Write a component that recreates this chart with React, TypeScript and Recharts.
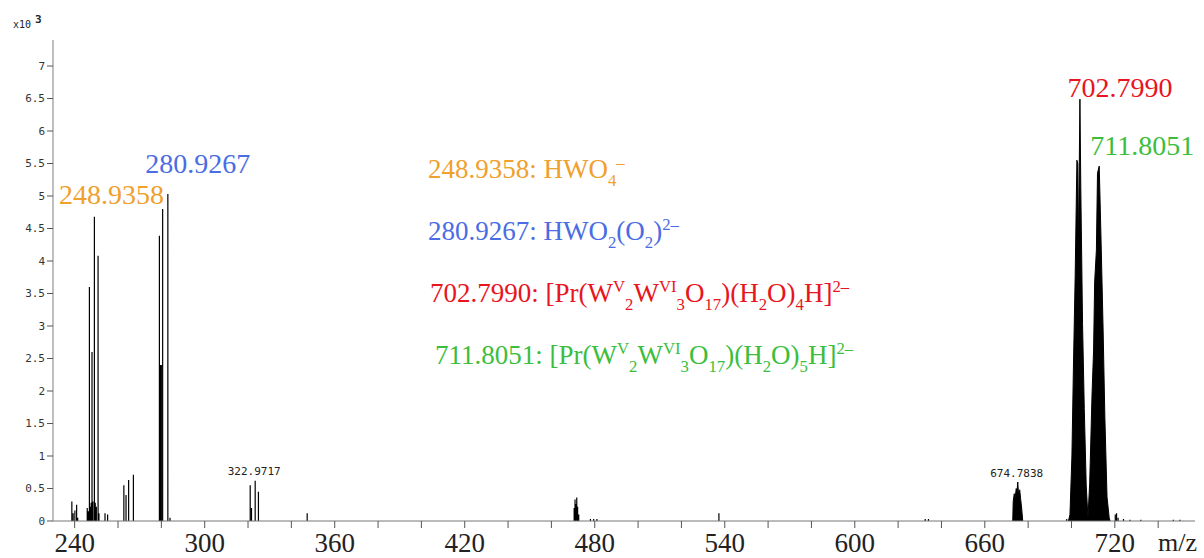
import React from "react";
import { ComposedChart, XAxis, YAxis, Line, Area, Scatter } from "recharts";

// ESI-MS stick spectrum, intensity in units of 10^3 counts.

const ORANGE = "#f0a02c";
const BLUE = "#4a6ce4";
const RED = "#e8141e";
const GREEN = "#3cbe3c";

// isolated sticks: [m/z, intensity]
const peaks240: [number, number][] = [
  [238.7, 0.3], [239.3, 0.12], [240.1, 0.16], [240.9, 0.25], [241.4, 0.05],
];
const peaks248: [number, number][] = [
  [245.8, 0.2], [246.3, 0.15], [246.8, 3.6], [247.2, 0.22], [247.6, 0.28],
  [248.0, 2.6], [248.4, 0.3], [249.1, 4.68], [249.5, 0.28], [250.0, 0.22],
  [250.8, 4.08], [251.2, 0.12], [254.0, 0.12], [255.2, 0.1],
];
const peaks265: [number, number][] = [
  [262.7, 0.55], [263.7, 0.4], [264.9, 0.63], [267.1, 0.71],
];
const peaks281: [number, number][] = [
  [279.1, 4.39], [279.6, 2.4], [280.0, 2.4], [280.6, 4.8], [283.0, 5.03], [284.0, 0.05],
];
const peaks323: [number, number][] = [
  [321.0, 0.55], [321.6, 0.2], [323.3, 0.62], [324.8, 0.45], [347.3, 0.12],
];
const peaksMid: [number, number][] = [
  [470.5, 0.2], [470.9, 0.33], [471.3, 0.26], [471.7, 0.36], [472.1, 0.22],
  [472.6, 0.1], [478.0, 0.03], [479.5, 0.03], [481.0, 0.03], [537.3, 0.12],
  [632.5, 0.03], [634.0, 0.03],
];
const peaksTail: [number, number][] = [
  [697.8, 0.03], [720.2, 0.1], [720.8, 0.12], [721.5, 0.05], [724.0, 0.03],
  [727.0, 0.02], [732.0, 0.02], [747.0, 0.02], [750.0, 0.02],
];

// dense isotope envelopes, drawn filled
const cluster675: [number, number][] = [
  [672.9, 0], [673.1, 0.3], [673.6, 0.42], [674.0, 0.35], [674.5, 0.5],
  [674.9, 0.45], [675.2, 0.6], [675.6, 0.4], [676.1, 0.48], [676.5, 0.35],
  [677.0, 0.2], [677.5, 0],
];
const cluster707: [number, number][] = [
  [698.6, 0], [699.3, 0.1], [700.2, 1.0], [700.9, 2.37], [701.7, 3.76],
  [702.5, 5.55], [702.9, 5.5], [703.2, 4.17], [703.9, 6.49], [704.3, 5.12],
  [705.1, 3.04], [705.9, 1.73], [706.8, 0.55], [707.6, 0.05], [708.4, 0.58],
  [709.5, 1.97], [710.2, 2.63], [710.7, 3.68], [711.5, 4.17], [712.0, 5.35],
  [712.8, 5.46], [713.7, 4.25], [714.6, 2.94], [715.4, 1.6], [716.4, 0.37],
  [717.4, 0.05], [717.8, 0],
];

const mzTicks = [240, 260, 280, 300, 320, 340, 360, 380, 400, 420, 440, 460, 480, 500, 520, 540, 560, 580, 600, 620, 640, 660, 680, 700, 720, 740];
const mzLabels = [240, 300, 360, 420, 480, 540, 600, 660, 720];
const intensityTicks = [0, 0.5, 1, 1.5, 2, 2.5, 3, 3.5, 4, 4.5, 5, 5.5, 6, 6.5, 7];

const peakLabels = [
  { mz: 249.1, intensity: 4.68, text: "248.9358", color: ORANGE },
  { mz: 283.0, intensity: 5.03, text: "280.9267", color: BLUE },
  { mz: 703.9, intensity: 6.49, text: "702.7990", color: RED },
  { mz: 712.8, intensity: 5.46, text: "711.8051", color: GREEN },
  { mz: 323.3, intensity: 0.62, text: "322.9717", color: "#222" },
  { mz: 675.2, intensity: 0.6, text: "674.7838", color: "#222" },
];

type Seg = [string, "" | "sub" | "sup"];
const assignments: { color: string; segs: Seg[] }[] = [
  { color: ORANGE, segs: [["248.9358: HWO", ""], ["4", "sub"], ["–", "sup"]] },
  { color: BLUE, segs: [["280.9267: HWO", ""], ["2", "sub"], ["(O", ""], ["2", "sub"], [")", ""], ["2–", "sup"]] },
  {
    color: RED,
    segs: [["702.7990: [Pr(W", ""], ["V", "sup"], ["2", "sub"], ["W", ""], ["VI", "sup"], ["3", "sub"], ["O", ""], ["17", "sub"], [")(H", ""], ["2", "sub"], ["O)", ""], ["4", "sub"], ["H]", ""], ["2–", "sup"]],
  },
  {
    color: GREEN,
    segs: [["711.8051: [Pr(W", ""], ["V", "sup"], ["2", "sub"], ["W", ""], ["VI", "sup"], ["3", "sub"], ["O", ""], ["17", "sub"], [")(H", ""], ["2", "sub"], ["O)", ""], ["5", "sub"], ["H]", ""], ["2–", "sup"]],
  },
];

// one vertical segment per stick, broken by nulls
const toSticks = (list: [number, number][]) =>
  list.flatMap(([mz, v]) => [
    { mz, intensity: 0 },
    { mz, intensity: v },
    { mz, intensity: null },
  ]);
const toPoints = (list: [number, number][]) => list.map(([mz, v]) => ({ mz, intensity: v }));

const stickData = toSticks([...peaks240, ...peaks248, ...peaks265, ...peaks281, ...peaks323, ...peaksMid, ...peaksTail]);

const labelOffset: Record<string, [number, number]> = {
  "248.9358": [17, -13],
  "280.9267": [30, -21],
  "702.7990": [40, -2],
  "711.8051": [43, -11],
  "322.9717": [-1, -6],
  "674.7838": [-1, -5],
};

const serif = "'Liberation Serif', 'Times New Roman', serif";
const mono = "'DejaVu Sans Mono', 'Liberation Mono', monospace";

function PeakLabel(props: any) {
  const { cx, cy, payload } = props;
  const [dx, dy] = labelOffset[payload.text] || [0, 0];
  const big = payload.color !== "#222";
  return (
    <text
      x={cx + dx}
      y={cy + dy}
      textAnchor="middle"
      fill={payload.color}
      fontFamily={big ? serif : mono}
      fontSize={big ? 28 : 11}
    >
      {payload.text}
    </text>
  );
}

const baselines = [179, 241, 303, 365];
const starts = [428, 428, 430, 435];

export default function App() {
  return (
    <div style={{ position: "absolute", left: 0, top: 0, width: 1204, height: 558, background: "#fff" }}>
      <ComposedChart width={1204} height={558} margin={{ top: 40, right: 9, bottom: 0, left: 0 }}>
        <XAxis
          type="number"
          dataKey="mz"
          domain={[230, 757]}
          ticks={mzTicks}
          interval={0}
          height={37}
          tickSize={7}
          tickMargin={5}
          stroke="#777"
          tickLine={{ stroke: "#555" }}
          tick={{ fontFamily: serif, fontSize: 27, fill: "#222" }}
          tickFormatter={(v: number) => (mzLabels.includes(v) ? String(v) : "")}
        />
        <YAxis
          type="number"
          domain={[0, 7.4]}
          ticks={intensityTicks}
          interval={0}
          width={53}
          tickSize={6}
          tickMargin={2}
          axisLine={{ stroke: "#aaa", strokeWidth: 1.5 }}
          tickLine={{ stroke: "#555" }}
          tick={{ fontFamily: mono, fontSize: 11, fill: "#333" }}
        />
        <Area
          data={toPoints(cluster675)}
          dataKey="intensity"
          type="linear"
          stroke="#000"
          strokeWidth={1}
          fill="#000"
          fillOpacity={1}
          isAnimationActive={false}
          dot={false}
          activeDot={false}
        />
        <Area
          data={toPoints(cluster707)}
          dataKey="intensity"
          type="linear"
          stroke="#000"
          strokeWidth={1}
          fill="#000"
          fillOpacity={1}
          isAnimationActive={false}
          dot={false}
          activeDot={false}
        />
        <Line
          data={stickData}
          dataKey="intensity"
          type="linear"
          stroke="#000"
          strokeWidth={1.2}
          dot={false}
          activeDot={false}
          connectNulls={false}
          isAnimationActive={false}
        />
        <Scatter data={peakLabels} dataKey="intensity" shape={PeakLabel} isAnimationActive={false} />
      </ComposedChart>

      <div style={{ position: "absolute", left: 13, top: 19, fontFamily: mono, fontSize: 10, color: "#222", lineHeight: 1 }}>
        x10
        <span style={{ position: "relative", top: -5, marginLeft: 4, fontWeight: "bold", fontSize: 11 }}>3</span>
      </div>

      <div style={{ position: "absolute", left: 1158, top: 553 - 23, fontFamily: serif, fontSize: 26, color: "#222", lineHeight: "26px" }}>
        m/z
      </div>

      {assignments.map((a, i) => (
        <div
          key={i}
          style={{
            position: "absolute",
            left: starts[i],
            top: baselines[i] - 23,
            fontFamily: serif,
            fontSize: 27,
            lineHeight: "27px",
            color: a.color,
            whiteSpace: "nowrap",
          }}
        >
          {a.segs.map(([t, kind], j) =>
            kind === "" ? (
              <span key={j}>{t}</span>
            ) : (
              <span
                key={j}
                style={{
                  fontSize: "0.62em",
                  lineHeight: 1,
                  position: "relative",
                  top: kind === "sub" ? "0.45em" : "-0.6em",
                }}
              >
                {t}
              </span>
            )
          )}
        </div>
      ))}
    </div>
  );
}
